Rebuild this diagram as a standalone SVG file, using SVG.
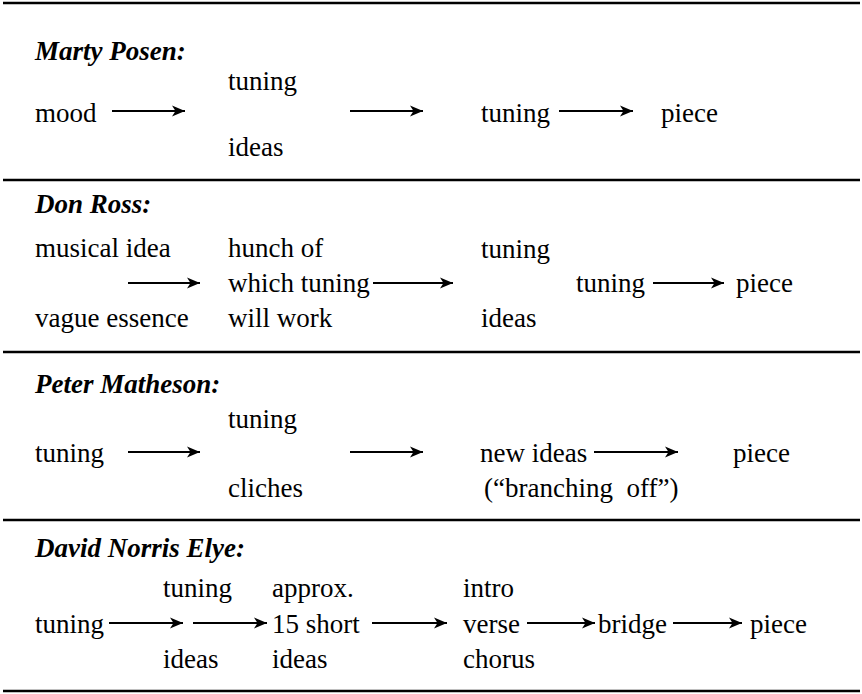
<svg xmlns="http://www.w3.org/2000/svg" width="862" height="694" viewBox="0 0 862 694">
<defs>
<style>
text{font-family:"Liberation Serif","Times New Roman",serif;font-size:27px;fill:#000;white-space:pre}
.h{font-weight:bold;font-style:italic}
.rule{stroke:#000;stroke-width:2.6}
.arr{stroke:#000;stroke-width:2;fill:none;marker-end:url(#ah)}
</style>
<marker id="ah" markerUnits="userSpaceOnUse" markerWidth="14" markerHeight="14" refX="13" refY="7" orient="auto">
<path d="M0,1.5 L13,7 L0,12.5 L3.5,7 z" fill="#000"/>
</marker>
</defs>
<rect width="862" height="694" fill="#fff"/>
<g id="rules">
<line class="rule" x1="3" y1="3" x2="860" y2="3"/>
<line class="rule" x1="3" y1="180" x2="860" y2="180"/>
<line class="rule" x1="3" y1="352" x2="860" y2="352"/>
<line class="rule" x1="3" y1="520" x2="860" y2="520"/>
<line class="rule" x1="3" y1="691" x2="860" y2="691"/>
</g>
<g id="connectors">
<line class="arr" x1="112" y1="111" x2="185" y2="111"/>
<line class="arr" x1="350" y1="111" x2="423" y2="111"/>
<line class="arr" x1="559" y1="111" x2="633" y2="111"/>
<line class="arr" x1="128" y1="283" x2="200" y2="283"/>
<line class="arr" x1="373" y1="283" x2="453" y2="283"/>
<line class="arr" x1="653" y1="283" x2="724" y2="283"/>
<line class="arr" x1="128" y1="452" x2="200" y2="452"/>
<line class="arr" x1="350" y1="452" x2="423" y2="452"/>
<line class="arr" x1="594" y1="452" x2="678" y2="452"/>
<line class="arr" x1="109" y1="623" x2="183" y2="623"/>
<line class="arr" x1="193" y1="623" x2="267" y2="623"/>
<line class="arr" x1="372" y1="623" x2="447" y2="623"/>
<line class="arr" x1="527" y1="623" x2="595" y2="623"/>
<line class="arr" x1="673" y1="623" x2="742" y2="623"/>
</g>
<g id="marty-posen">
<text class="h" x="35" y="60">Marty Posen:</text>
<text x="35" y="122">mood</text>
<text x="228" y="90">tuning</text>
<text x="228" y="156">ideas</text>
<text x="481" y="122">tuning</text>
<text x="661" y="122">piece</text>
</g>
<g id="don-ross">
<text class="h" x="35" y="213">Don Ross:</text>
<text x="35" y="257">musical idea</text>
<text x="35" y="327">vague essence</text>
<text x="228" y="257">hunch of</text>
<text x="228" y="292">which tuning</text>
<text x="228" y="327">will work</text>
<text x="481" y="258">tuning</text>
<text x="481" y="327">ideas</text>
<text x="576" y="292">tuning</text>
<text x="736" y="292">piece</text>
</g>
<g id="peter-matheson">
<text class="h" x="35" y="393">Peter Matheson:</text>
<text x="35" y="462">tuning</text>
<text x="228" y="428">tuning</text>
<text x="228" y="497">cliches</text>
<text x="480" y="462">new ideas</text>
<text x="484" y="497">(“branching  off”)</text>
<text x="733" y="462">piece</text>
</g>
<g id="david-norris-elye">
<text class="h" x="35" y="557">David Norris Elye:</text>
<text x="35" y="633">tuning</text>
<text x="163" y="597">tuning</text>
<text x="163" y="668">ideas</text>
<text x="272" y="597">approx.</text>
<text x="272" y="633">15 short</text>
<text x="272" y="668">ideas</text>
<text x="463" y="597">intro</text>
<text x="463" y="633">verse</text>
<text x="463" y="668">chorus</text>
<text x="598" y="633">bridge</text>
<text x="750" y="633">piece</text>
</g>
</svg>
